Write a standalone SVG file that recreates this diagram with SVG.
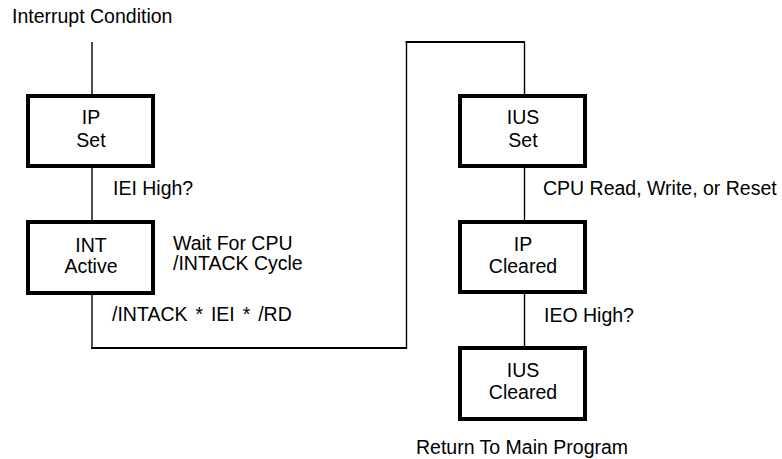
<svg xmlns="http://www.w3.org/2000/svg" width="782" height="459" viewBox="0 0 782 459">
<style>
text{font-family:"Liberation Sans",Arial,sans-serif;font-size:19.5px;fill:#000}
.c{text-anchor:middle}
.box{fill:#fff;stroke:#000;stroke-width:4}
.v{stroke:#000;stroke-width:1.4;fill:none}
.h{stroke:#000;stroke-width:2.2;fill:none}
</style>
<rect width="782" height="459" fill="#fff"/>
<g id="connectors">
<line class="v" x1="92" y1="42" x2="92" y2="94"/>
<line class="v" x1="92" y1="168" x2="92" y2="220"/>
<line class="v" x1="92" y1="295" x2="92" y2="348"/>
<line class="h" x1="91" y1="348" x2="407" y2="348"/>
<line class="v" x1="406.5" y1="349" x2="406.5" y2="42"/>
<line class="h" x1="405.5" y1="42" x2="525" y2="42"/>
<line class="v" x1="524.5" y1="42" x2="524.5" y2="94"/>
<line class="v" x1="524.5" y1="168" x2="524.5" y2="220"/>
<line class="v" x1="524.5" y1="294" x2="524.5" y2="346"/>
</g>
<g id="labels">
<text x="12" y="23">Interrupt Condition</text>
<text x="113" y="195">IEI High?</text>
<text x="173" y="250">Wait For CPU</text>
<text x="173" y="270">/INTACK Cycle</text>
<text x="112" y="321" word-spacing="2.5">/INTACK * IEI * /RD</text>
<text x="543" y="195">CPU Read, Write, or Reset</text>
<text x="544" y="322">IEO High?</text>
<text x="416" y="454">Return To Main Program</text>
</g>
<g id="ip_set">
<rect class="box" x="28" y="96" width="125" height="70"/>
<text class="c" x="91" y="124">IP</text>
<text class="c" x="91" y="147">Set</text>
</g>
<g id="int_active">
<rect class="box" x="28" y="222" width="125" height="71"/>
<text class="c" x="91" y="252">INT</text>
<text class="c" x="91" y="273">Active</text>
</g>
<g id="ius_set">
<rect class="box" x="460" y="96" width="125" height="70"/>
<text class="c" x="523" y="124">IUS</text>
<text class="c" x="523" y="147">Set</text>
</g>
<g id="ip_cleared">
<rect class="box" x="460" y="222" width="125" height="70"/>
<text class="c" x="523" y="251">IP</text>
<text class="c" x="523" y="273">Cleared</text>
</g>
<g id="ius_cleared">
<rect class="box" x="460" y="348" width="125" height="71"/>
<text class="c" x="523" y="377">IUS</text>
<text class="c" x="523" y="399">Cleared</text>
</g>
</svg>
